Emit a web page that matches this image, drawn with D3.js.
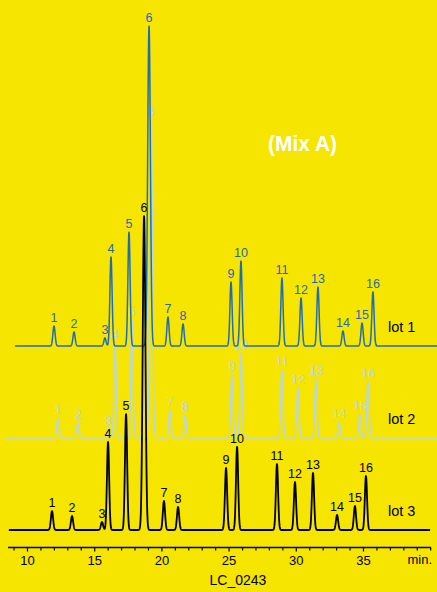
<!DOCTYPE html>
<html>
<head>
<meta charset="utf-8">
<script src="https://cdn.jsdelivr.net/npm/d3@7"></script>
<style>
  html, body { margin: 0; padding: 0; background: #f6e500; }
  svg { display: block; }
</style>
</head>
<body>
<svg id="chart" width="437" height="592"></svg>
<script>
// ---- data (retention time in min, peak height in signal units) ----
const peakLabels = ["1","2","3","4","5","6","7","8","9","10","11","12","13","14","15","16"];
const lot1Times   = [12.01, 13.50, 15.80, 16.25, 17.59, 19.08, 20.49, 21.61, 25.18, 25.92, 28.97, 30.39, 31.65, 33.51, 34.93, 35.74];
const lot1Heights = [20, 14, 8, 89, 114, 320, 29, 22, 64, 85, 68, 48, 59, 15, 23, 54];
const lot2Times   = [12.31, 13.79, 16.03, 16.55, 17.81, 19.23, 20.64, 21.76, 25.25, 25.92, 28.97, 30.16, 31.50, 33.21, 34.78, 35.37];
const lot2Heights = [20, 15, 9, 95, 118, 318, 28, 23, 63, 85, 68, 50, 59, 16, 24, 56];
const lot3Times   = [11.86, 13.35, 15.58, 16.03, 17.37, 18.71, 20.19, 21.24, 24.81, 25.63, 28.60, 29.94, 31.28, 33.07, 34.40, 35.22];
const lot3Heights = [19, 14, 8, 88, 116, 314, 29, 23, 62, 83, 66, 48, 57, 15, 24, 54];
const lotNames    = ["lot 1", "lot 2", "lot 3"];
const lotOffsets  = [184, 92, 0];          // vertical stacking offset (signal units)
const lotStart    = [9.1, 8.35, 8.65];     // trace start (min)
const lotEnd      = [40.6, 40.6, 40.0];    // trace end (min)
const majorTicks  = [10, 15, 20, 25, 30, 35];
const minorTicks  = [9,11,12,13,14,16,17,18,19,21,22,23,24,26,27,28,29,31,32,33,34,36,37,38,39,40];
const axisUnit    = "min.";
const chartId     = "LC_0243";
const mixTitle    = "(Mix A)";

// ---- layout ----
const svg = d3.select("#chart");
const W = 437, H = 592;
svg.append("rect").attr("width", W).attr("height", H).attr("fill", "#f6e500");

const x = d3.scaleLinear().domain([10, 35]).range([27, 363]);
const y = d3.scaleLinear().domain([0, 520]).range([530, 10]);

const lineColors  = ["#1f6db3", "#b6d6e8", "#000000"];
const labelColors = ["#2a6aa8", "#b6d6e8", "#000000"];
const lineWidths  = [1.5, 1.5, 1.8];

const lots = [
  {times: lot1Times, heights: lot1Heights},
  {times: lot2Times, heights: lot2Heights},
  {times: lot3Times, heights: lot3Heights}
];

function trace(lot, i) {
  const pts = [];
  const step = 0.012;
  for (let t = lotStart[i]; t <= lotEnd[i] + 1e-9; t += step) {
    let v = 0;
    lot.times.forEach((rt, k) => {
      const s = k === 5 ? 0.1 : 0.082;
      v += lot.heights[k] * Math.exp(-0.5 * Math.pow((t - rt) / s, 2));
    });
    pts.push([t, v + lotOffsets[i]]);
  }
  return pts;
}

const line = d3.line().x(d => x(d[0])).y(d => y(d[1]));

const font = "'Liberation Sans', Arial, Helvetica, sans-serif";

// drawing order: lot 2, lot 1, lot 3
[1, 0, 2].forEach(i => {
  const lot = lots[i];
  const g = svg.append("g");
  g.append("path")
    .attr("d", line(trace(lot, i)))
    .attr("fill", "none")
    .attr("stroke", lineColors[i])
    .attr("stroke-width", lineWidths[i])
    .attr("stroke-linejoin", "round");
  g.selectAll("text.pk")
    .data(peakLabels)
    .join("text")
    .attr("class", "pk")
    .attr("x", (d, k) => x(lot.times[k]))
    .attr("y", (d, k) => y(lot.heights[k] + lotOffsets[i]) - 4)
    .attr("text-anchor", "middle")
    .attr("font-family", font)
    .attr("font-size", 12.5)
    .attr("fill", labelColors[i])
    .text(d => d);
  g.append("text")
    .attr("x", 388)
    .attr("y", y(lotOffsets[i]) - 14)
    .attr("font-family", font)
    .attr("font-size", 14.5)
    .attr("fill", "#000")
    .text(lotNames[i]);
});

// ---- axis ----
const axisY = 547.5;
svg.append("line")
  .attr("x1", 8).attr("x2", 431)
  .attr("y1", axisY).attr("y2", axisY)
  .attr("stroke", "#000").attr("stroke-width", 1.6);

const axisG = svg.append("g").attr("transform", `translate(0,${axisY})`)
  .call(d3.axisBottom(x).tickValues(majorTicks).tickSize(4).tickPadding(4).tickFormat(d3.format("d")));
axisG.select(".domain").remove();
axisG.selectAll("line").attr("stroke", "#000").attr("stroke-width", 1.2);
axisG.selectAll("text").attr("font-family", font).attr("font-size", 13).attr("fill", "#000");

svg.append("g").attr("transform", `translate(0,${axisY})`)
  .call(d3.axisBottom(x).tickValues(minorTicks).tickSize(3).tickFormat(""))
  .call(g => g.select(".domain").remove())
  .selectAll("line").attr("stroke", "#000").attr("stroke-width", 1.2);

svg.append("text")
  .attr("x", 432).attr("y", 564)
  .attr("text-anchor", "end")
  .attr("font-family", font).attr("font-size", 13).attr("fill", "#000")
  .text(axisUnit);

svg.append("text")
  .attr("x", 238).attr("y", 585)
  .attr("text-anchor", "middle")
  .attr("font-family", font).attr("font-size", 14).attr("fill", "#000")
  .text(chartId);

svg.append("text")
  .attr("x", 268).attr("y", 151)
  .attr("textLength", 69)
  .attr("lengthAdjust", "spacingAndGlyphs")
  .attr("font-family", "'Liberation Sans Narrow', 'Arial Narrow', 'Liberation Sans', Arial, sans-serif")
  .attr("font-weight", "bold")
  .attr("font-size", 22)
  .attr("fill", "#ffffff")
  .text(mixTitle);
</script>
</body>
</html>
